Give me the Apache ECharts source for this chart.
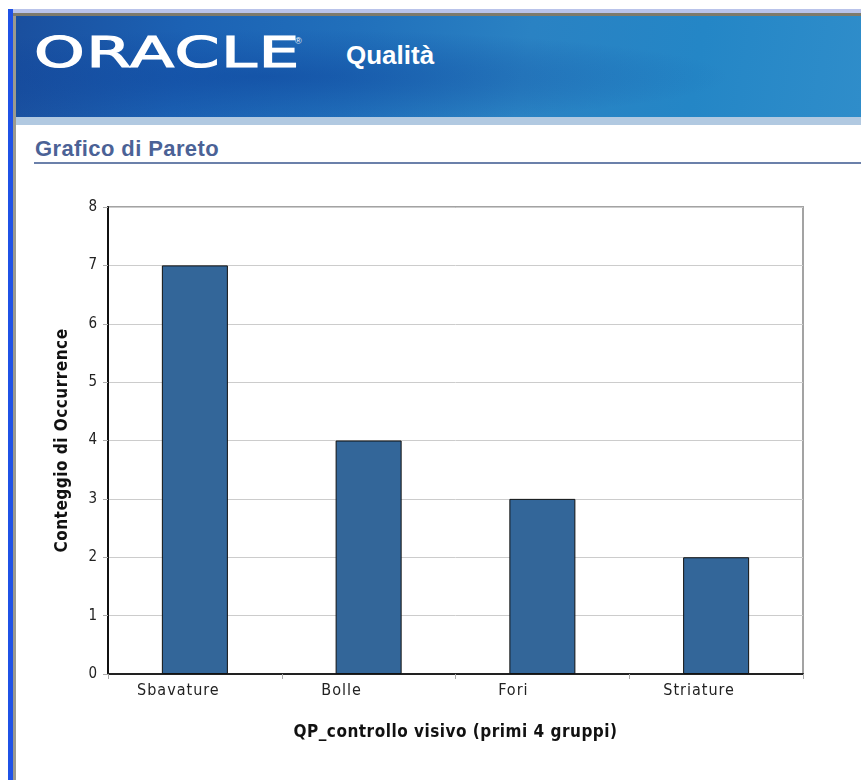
<!DOCTYPE html>
<html>
<head>
<meta charset="utf-8">
<script src="https://cdn.jsdelivr.net/npm/echarts@6/dist/echarts.min.js"></script>
<style>
html,body{margin:0;padding:0;background:#fff;width:861px;height:780px;overflow:hidden;position:relative;font-family:"Liberation Sans",Arial,sans-serif;}
.abs{position:absolute;}
</style>
</head>
<body>
<div class="abs" style="left:8px;top:9px;width:5px;height:771px;background:#1f52e6;"></div>
<div class="abs" style="left:13px;top:9px;width:3px;height:771px;background:#9b9a8e;"></div>
<div class="abs" style="left:13px;top:9px;width:848px;height:4px;background:#b9c3ea;"></div>
<div class="abs" style="left:13px;top:13px;width:848px;height:3px;background:#7d7a6c;"></div>
<div class="abs" style="left:16px;top:16px;width:845px;height:101px;background:linear-gradient(100deg,#1a4f9e 0%,#1c62b4 20%,#2170bb 40%,#2a82c3 60%,#2486c6 80%,#2f8dca 100%);"></div>
<div class="abs" style="left:16px;top:16px;width:845px;height:101px;background:radial-gradient(ellipse at 30% 60%,rgba(10,60,150,0.45),rgba(10,60,150,0) 55%);"></div>
<div class="abs" style="left:16px;top:117px;width:845px;height:8px;background:#b1c9e1;"></div>
<div class="abs" style="left:34px;top:27px;color:#fff;font-family:'DejaVu Sans';font-size:43px;line-height:50px;letter-spacing:1px;-webkit-text-stroke:1.2px #fff;transform:scaleX(1.5);transform-origin:left center;">ORACLE</div>
<div class="abs" style="left:295px;top:36px;color:#fff;font-size:9px;">®</div>
<div class="abs" style="left:346px;top:40px;color:#fff;font-family:'Liberation Sans';font-weight:bold;font-size:26px;">Qualità</div>
<div class="abs" style="left:35px;top:136px;color:#4b6296;font-family:'Liberation Sans';font-weight:bold;font-size:22px;letter-spacing:0.4px;">Grafico di Pareto</div>
<div class="abs" style="left:34px;top:162px;width:827px;height:2px;background:#6b80aa;"></div>
<div id="chart" class="abs" style="left:0;top:0;width:861px;height:780px;"></div>
<script>
const categories = ['Sbavature', 'Bolle', 'Fori', 'Striature'];
const occurrences = [7, 4, 3, 2];
const yTicks = [0, 1, 2, 3, 4, 5, 6, 7, 8];
const xAxisTitle = 'QP_controllo visivo (primi 4 gruppi)';
const yAxisTitle = 'Conteggio di Occurrence';

// style: right padding per category label (the source renders labels left of the bar centre)
const labelPadRight = [33, 54, 58, 34];

// letter spacing for the Java-style chart text (canvas tracking)
(function () {
  const P = CanvasRenderingContext2D.prototype;
  const origFill = P.fillText, origStroke = P.strokeText;
  function spacing(ctx) {
    if (!('letterSpacing' in ctx)) return;
    const f = ctx.font || '';
    if (f.indexOf('Condensed') >= 0 && f.indexOf('bold') >= 0) ctx.letterSpacing = '0.5px';
    else if (f.indexOf('Condensed') >= 0) ctx.letterSpacing = '1px';
    else ctx.letterSpacing = '0px';
  }
  P.fillText = function () { spacing(this); return origFill.apply(this, arguments); };
  P.strokeText = function () { spacing(this); return origStroke.apply(this, arguments); };
})();

const labelRich = {};
labelPadRight.forEach(function (p, i) {
  labelRich['c' + i] = {fontFamily: 'DejaVu Sans Condensed', fontSize: 16, color: '#222', padding: [0, p, 0, 0]};
});

const chart = echarts.init(document.getElementById('chart'), null, {renderer: 'canvas'});
chart.setOption({
  backgroundColor: 'transparent',
  animation: false,
  grid: {left: 108, top: 207, width: 695, height: 467, show: true, borderColor: '#a3a3a3', borderWidth: 2, backgroundColor: 'transparent'},
  xAxis: {
    type: 'category',
    data: categories,
    name: xAxisTitle,
    nameLocation: 'middle',
    nameGap: 50,
    nameTextStyle: {fontFamily: 'DejaVu Sans Condensed', fontWeight: 'bold', fontSize: 17, color: '#111'},
    axisLine: {lineStyle: {color: '#222', width: 2}},
    axisTick: {show: true, length: 5, lineStyle: {color: '#aaa'}},
    axisLabel: {
      fontFamily: 'DejaVu Sans Condensed', fontSize: 16, color: '#222', margin: 9,
      formatter: function (v) { return '{c' + categories.indexOf(v) + '|' + v + '}'; },
      rich: labelRich
    },
    splitLine: {show: false}
  },
  yAxis: {
    type: 'value',
    min: yTicks[0],
    max: yTicks[yTicks.length - 1],
    interval: 1,
    name: yAxisTitle,
    nameLocation: 'middle',
    nameGap: 37,
    nameTextStyle: {fontFamily: 'DejaVu Sans Condensed', fontWeight: 'bold', fontSize: 17, color: '#111'},
    axisLine: {show: true, lineStyle: {color: '#111', width: 2}},
    axisTick: {show: true, length: 5, lineStyle: {color: '#aaa'}},
    axisLabel: {fontFamily: 'DejaVu Sans Condensed', fontSize: 15, color: '#222', margin: 10},
    splitLine: {show: true, lineStyle: {color: '#cccccc', width: 1}}
  },
  series: [{
    type: 'bar',
    data: occurrences,
    barWidth: '38%',
    itemStyle: {color: '#336699', borderColor: '#111', borderWidth: 1}
  }]
});
</script>
</body>
</html>
